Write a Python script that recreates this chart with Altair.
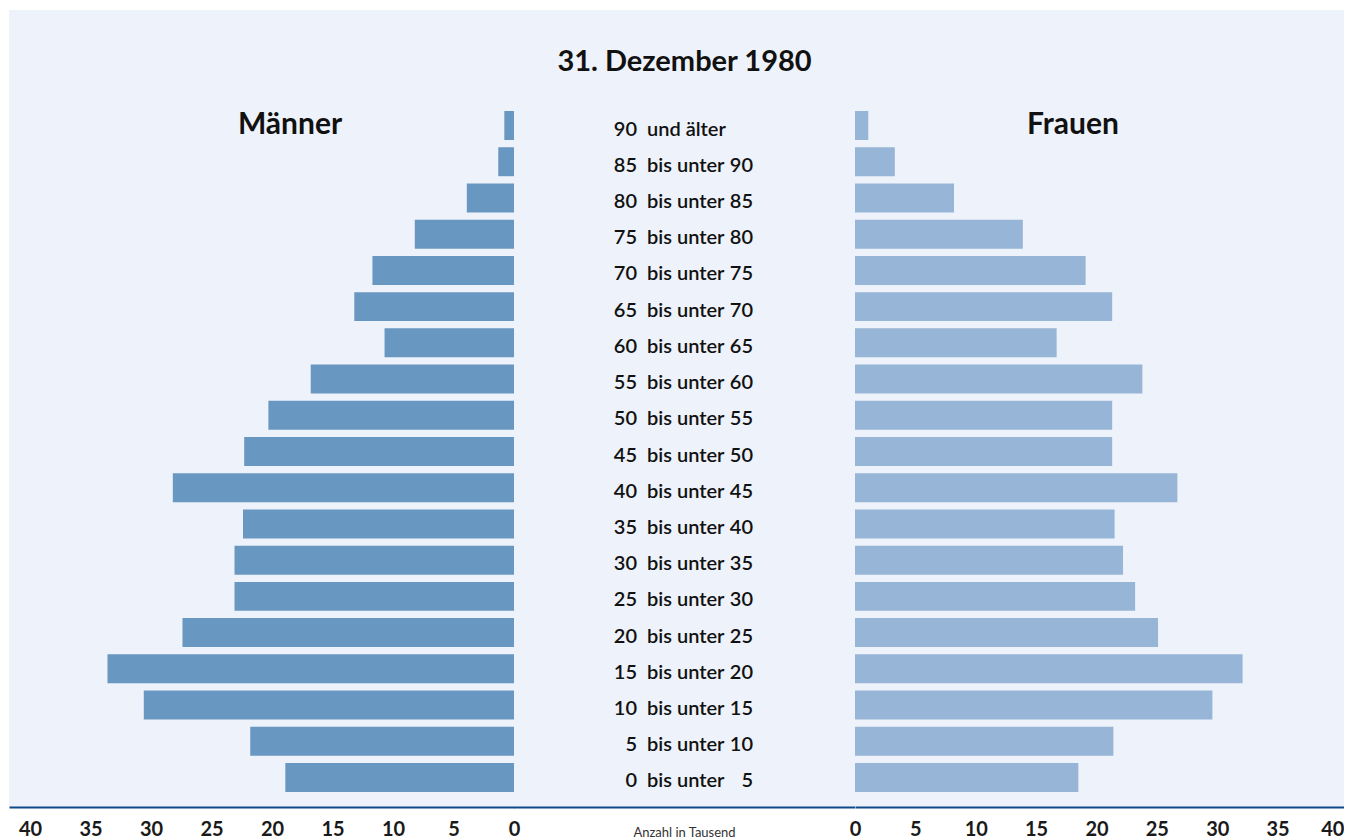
import altair as alt
import pandas as pd

# ---- data ----
gruppe_von = ["90", "85", "80", "75", "70", "65", "60", "55", "50", "45",
              "40", "35", "30", "25", "20", "15", "10", "5", "0"]
gruppe_text = ["und älter"] + ["bis unter"] * 18
gruppe_bis = ["", "90", "85", "80", "75", "70", "65", "60", "55", "50",
              "45", "40", "35", "30", "25", "20", "15", "10", "5"]
maenner = [0.8, 1.3, 3.9, 8.2, 11.7, 13.2, 10.7, 16.8, 20.3, 22.3,
           28.2, 22.4, 23.1, 23.1, 27.4, 33.6, 30.6, 21.8, 18.9]
frauen = [1.1, 3.3, 8.2, 13.9, 19.1, 21.3, 16.7, 23.8, 21.3, 21.3,
          26.7, 21.5, 22.2, 23.2, 25.1, 32.1, 29.6, 21.4, 18.5]
achse_werte = [0, 5, 10, 15, 20, 25, 30, 35, 40]
titel = ["31. Dezember 1980"]
links_titel = ["Männer"]
rechts_titel = ["Frauen"]
einheit = ["Anzahl in Tausend"]

df = pd.DataFrame({"gruppe": gruppe_von, "text": gruppe_text, "bis": gruppe_bis,
                   "maenner": maenner, "frauen": frauen})

FONT = "Lato"
BG = "#eef2fa"
M_COL = "#6897c2"
F_COL = "#97b5d6"
AX_COL = "#0e4a8a"
TXT = "#111111"

H = 797
W_L, W_M, W_R = 505, 341, 489

y_enc = alt.Y("gruppe:N", sort=gruppe_von, axis=None,
              scale=alt.Scale(range=[97.4, 785.6], paddingInner=0.2, paddingOuter=0.1))

axis_common = dict(values=achse_werte, title=None, grid=False, ticks=False,
                   domainColor=AX_COL, domainWidth=2, labelFont=FONT, labelFontSize=20,
                   labelFontWeight="bold", labelColor="#1a1a1a", labelPadding=12,
                   labelFlush=False, labelOverlap=False)

# ---- left (Männer) ----
left_bars = alt.Chart(df).mark_bar(color=M_COL).encode(
    x=alt.X("maenner:Q", scale=alt.Scale(domain=[0, 41.74], reverse=True, nice=False),
            axis=alt.Axis(**axis_common)),
    y=y_enc,
)
left_label = alt.Chart(pd.DataFrame({"t": links_titel})).mark_text(
    font=FONT, fontSize=30, fontWeight="bold", color=TXT, baseline="alphabetic", align="center"
).encode(x=alt.value(281), y=alt.value(124), text="t:N")
left = alt.layer(left_bars, left_label).properties(width=W_L, height=H)

# ---- middle (labels) ----
lab_style = dict(font=FONT, fontSize=20, fontWeight=600, color=TXT, baseline="alphabetic", dy=10)
mid_von = alt.Chart(df).mark_text(align="right", **lab_style).encode(
    x=alt.value(123), y=y_enc, text="gruppe:N")
mid_txt = alt.Chart(df).mark_text(align="left", **lab_style).encode(
    x=alt.value(133), y=y_enc, text="text:N")
mid_bis = alt.Chart(df).mark_text(align="right", **lab_style).encode(
    x=alt.value(239), y=y_enc, text="bis:N")
mid_title = alt.Chart(pd.DataFrame({"t": titel})).mark_text(
    font=FONT, fontSize=29, fontWeight="bold", color=TXT, baseline="alphabetic", align="center"
).encode(x=alt.value(170.5), y=alt.value(61), text="t:N")
mid_rule = alt.Chart(pd.DataFrame({"a": [0]})).mark_rule(color=AX_COL, strokeWidth=2).encode(
    x=alt.value(0), x2=alt.value(W_M), y=alt.value(H + 0.5))
mid_unit = alt.Chart(pd.DataFrame({"t": einheit})).mark_text(
    font=FONT, fontSize=13, color="#333333", baseline="top", align="center"
).encode(x=alt.value(170.5), y=alt.value(817), text="t:N")
mid = alt.layer(mid_von, mid_txt, mid_bis, mid_title, mid_rule, mid_unit).properties(
    width=W_M, height=H)

# ---- right (Frauen) ----
right_axis = dict(axis_common)
right_axis["labelAlign"] = alt.ExprRef(expr="datum.value == 40 ? 'right' : 'center'")
right_axis["labelOffset"] = alt.ExprRef(expr="datum.value == 40 ? 6 : 0")
right_bars = alt.Chart(df).mark_bar(color=F_COL).encode(
    x=alt.X("frauen:Q", scale=alt.Scale(domain=[0, 40.5], nice=False),
            axis=alt.Axis(**right_axis)),
    y=y_enc,
)
right_label = alt.Chart(pd.DataFrame({"t": rechts_titel})).mark_text(
    font=FONT, fontSize=30, fontWeight="bold", color=TXT, baseline="alphabetic", align="center"
).encode(x=alt.value(218), y=alt.value(124), text="t:N")
right = alt.layer(right_bars, right_label).properties(width=W_R, height=H)

chart = alt.hconcat(left, mid, right, spacing=0, bounds="flush").properties(
    padding={"left": 1, "top": 2, "right": 0, "bottom": 0},
    background="white",
).configure_view(fill=BG, stroke=None)

chart.save("out.html", embed_options={"renderer": "svg", "actions": False})
